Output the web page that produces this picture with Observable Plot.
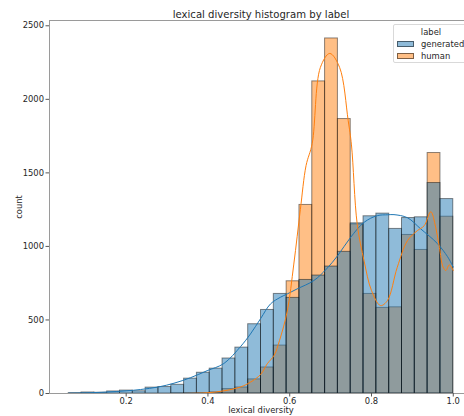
<!DOCTYPE html>
<html>
<head>
<meta charset="utf-8">
<script src="https://cdn.jsdelivr.net/npm/d3@7"></script>
<script src="https://cdn.jsdelivr.net/npm/@observablehq/plot@0.6"></script>
<style>
  html, body { margin: 0; padding: 0; background: #fff; overflow: hidden; }
  #wrap { position: relative; width: 464px; height: 416px; overflow: hidden; }
  #wrap > svg { max-width: none !important; display: block; }
  .legend { position: absolute; left: 393px; top: 24px; width: 74px; height: 39px;
            border: 1px solid #d9d9d9; border-radius: 2px; background: rgba(255,255,255,0.8);
            box-sizing: border-box; font: 8.4px "DejaVu Sans", sans-serif; color: #262626; }
  .legend .ttl { position: absolute; left: 0; width: 74px; top: 2px; text-align: center; line-height: 10px; }
  .legend .sw { position: absolute; left: 3px; width: 17px; height: 5.5px; box-sizing: border-box;
                border: 1px solid rgba(0,0,0,0.5); }
  .legend .lb { position: absolute; left: 27px; line-height: 10px; white-space: nowrap; }
</style>
</head>
<body>
<div id="wrap"></div>
<script>
// Hue levels and their colours
const labels = ["generated", "human"];
const colors = ["#1f77b4", "#ff7f0e"];

// Histogram bins: 30 equal bins over the observed range of lexical diversity
const binLow = 0.0595;
const binHigh = 1.0;
const binCount = 30;

// Counts per bin
const generatedCounts = [3, 7, 5, 14, 20, 15, 40, 44, 59, 101,
                         141, 169, 238, 312, 471, 568, 677, 650, 772, 802,
                         863, 963, 1157, 1205, 1223, 1119, 1193, 1198, 1431, 1322];
const humanCounts =     [0, 0, 0, 0, 0, 0, 0, 0, 1, 2,
                         3, 8, 30, 41, 96, 177, 326, 763, 1282, 2122,
                         2414, 1866, 1150, 677, 582, 586, 1078, 976, 1635, 1202];

// Kernel density curves, scaled to counts
const generatedKdeX = [0.06, 0.10, 0.153, 0.20, 0.235, 0.28, 0.317, 0.357, 0.398, 0.439,
                       0.48, 0.504, 0.529, 0.553, 0.577, 0.594, 0.618, 0.659, 0.69, 0.718,
                       0.749, 0.782, 0.814, 0.84, 0.855, 0.888, 0.92, 0.961, 0.986, 1.0];
const generatedKdeY = [2, 4, 10, 18, 27, 45, 70, 107, 155, 204,
                       320, 405, 510, 609, 654, 677, 711, 768, 847, 940,
                       1062, 1164, 1209, 1215, 1216, 1195, 1120, 1020, 930, 860];
const humanKdeX = [0.33, 0.357, 0.398, 0.439, 0.48, 0.504, 0.529, 0.545, 0.562, 0.575,
                   0.594, 0.61, 0.626, 0.64, 0.655, 0.675, 0.698, 0.722, 0.743, 0.751,
                   0.765, 0.782, 0.80, 0.822, 0.839, 0.863, 0.888, 0.912, 0.929, 0.945,
                   0.957, 0.966, 0.975, 0.982, 0.99, 1.0];
const humanKdeY = [0, 1, 5, 18, 45, 77, 130, 202, 260, 360,
                   560, 880, 1250, 1550, 1700, 2217, 2312, 2217, 1855, 1690,
                   1153, 900, 700, 598, 632, 858, 1039, 1107, 1141, 1236,
                   1130, 994, 860, 836, 875, 836];

// Axis ticks
const xTicks = [0.2, 0.4, 0.6, 0.8, 1.0];
const yTicks = [0, 500, 1000, 1500, 2000, 2500];

const title = "lexical diversity histogram by label";
const xLabel = "lexical diversity";
const yLabel = "count";

// Build rows for the bars
const binWidth = (binHigh - binLow) / binCount;
const seriesCounts = {generated: generatedCounts, human: humanCounts};
const barRows = label => seriesCounts[label].map((count, i) => ({
  label, count, x1: binLow + i * binWidth, x2: binLow + (i + 1) * binWidth
}));
const kdeRows = (label, xs, ys) => xs.map((x, i) => ({label, x, y: ys[i]}));

// Axis limits with a 5% margin on x, as the plotting defaults give
const pad = (binHigh - binLow) * 0.05;
const xDomain = [binLow - pad, binHigh + pad];
const yMax = 2536;

const barStyle = {x1: "x1", x2: "x2", y: "count", fill: "label", fillOpacity: 0.5,
                  stroke: "#000", strokeOpacity: 0.45, strokeWidth: 1};

const chart = Plot.plot({
  width: 472,
  height: 416,
  marginLeft: 49,
  marginRight: 0,
  marginTop: 20,
  marginBottom: 23,
  style: {fontFamily: "DejaVu Sans, sans-serif", fontSize: "8.4px", color: "#262626",
          background: "#fff", maxWidth: "none"},
  x: {domain: xDomain},
  y: {domain: [0, yMax]},
  color: {domain: labels, range: colors},
  marks: [
    // human first, generated layered above it
    Plot.rectY(barRows("human"), barStyle),
    Plot.rectY(barRows("generated"), barStyle),
    Plot.line(kdeRows("generated", generatedKdeX, generatedKdeY),
              {x: "x", y: "y", stroke: "label", strokeWidth: 1, curve: "catmull-rom"}),
    Plot.line(kdeRows("human", humanKdeX, humanKdeY),
              {x: "x", y: "y", stroke: "label", strokeWidth: 1, curve: "catmull-rom"}),
    Plot.frame({stroke: "#9a9a9a", strokeWidth: 1}),
    Plot.axisX({ticks: xTicks, tickFormat: d3.format(".1f"), tickSize: 3.5, tickPadding: 1.5,
                stroke: "#555", label: xLabel, labelAnchor: "center", labelArrow: "none",
                labelOffset: 19.5}),
    Plot.axisY({ticks: yTicks, tickFormat: d3.format("d"), tickSize: 3.5, tickPadding: 2,
                stroke: "#555", label: yLabel, labelAnchor: "center", labelArrow: "none",
                labelOffset: 33}),
    Plot.text([title], {frameAnchor: "top", lineAnchor: "bottom", dy: -3,
                        fontSize: 10.1, fill: "#262626"})
  ]
});

const wrap = document.getElementById("wrap");
wrap.appendChild(chart);

// Legend box in the upper right corner of the axes
const legend = document.createElement("div");
legend.className = "legend";
const ttl = document.createElement("div");
ttl.className = "ttl";
ttl.textContent = "label";
legend.appendChild(ttl);
labels.forEach((label, i) => {
  const top = 16 + i * 12;
  const sw = document.createElement("div");
  sw.className = "sw";
  sw.style.top = top + "px";
  sw.style.background = d3.color(colors[i]).copy({opacity: 0.5}).toString();
  legend.appendChild(sw);
  const lb = document.createElement("div");
  lb.className = "lb";
  lb.style.top = (top - 2.5) + "px";
  lb.textContent = label;
  legend.appendChild(lb);
});
wrap.appendChild(legend);
</script>
</body>
</html>
